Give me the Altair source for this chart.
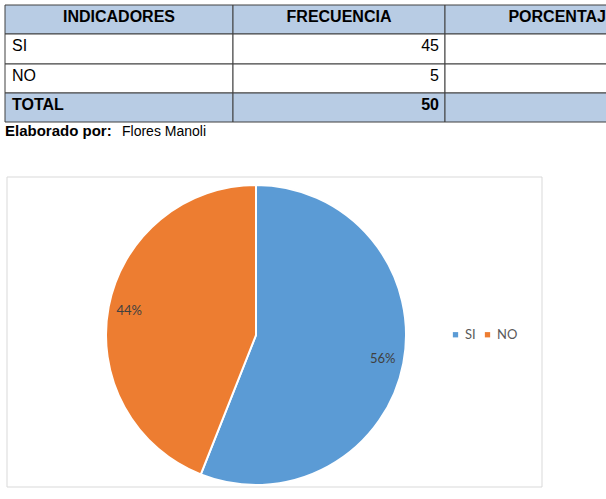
import altair as alt
import pandas as pd

# ---- data ----
headers = ["INDICADORES", "FRECUENCIA", "PORCENTAJE"]
indicadores = ["SI", "NO"]
frecuencias = [45, 5]
total_label = "TOTAL"
total_value = 50
pie_labels = ["SI", "NO"]
pie_pct = [56, 44]
credit_bold = "Elaborado por:"
credit_name = "Flores Manoli"

# ---- layout (pixels) ----
W, H = 606, 499
col_edges = [5, 233, 445, 680]
row_edges = [5, 34, 64, 93, 122]
head_fill = "#B8CCE4"
body_fill = "#FFFFFF"
border = "#404040"
FONT = "Liberation Sans"

xs = alt.Scale(domain=[0, W], nice=False, zero=False)
ys = alt.Scale(domain=[0, H], nice=False, zero=False, reverse=True)

# table cells
cells = []
for r in range(4):
    for c in range(3):
        cells.append({
            "x": col_edges[c], "x2": col_edges[c + 1],
            "y": row_edges[r], "y2": row_edges[r + 1],
            "fill": head_fill if r in (0, 3) else body_fill,
        })
cells_df = pd.DataFrame(cells)
cell_layer = alt.Chart(cells_df).mark_rect(stroke=border, strokeWidth=1).encode(
    x=alt.X("x:Q", scale=xs, axis=None),
    x2="x2:Q",
    y=alt.Y("y:Q", scale=ys, axis=None),
    y2="y2:Q",
    fill=alt.Fill("fill:N", scale=None),
)

def base_y(r):
    return row_edges[r] + 16.5

head_df = pd.DataFrame({
    "t": headers,
    "x": [(col_edges[i] + col_edges[i + 1]) / 2 for i in range(3)],
    "y": [base_y(0)] * 3,
})
head_layer = alt.Chart(head_df).mark_text(
    font=FONT, fontSize=16, fontWeight="bold", align="center", baseline="alphabetic", color="#000000"
).encode(x=alt.X("x:Q", scale=xs), y=alt.Y("y:Q", scale=ys), text="t:N")

left_df = pd.DataFrame({"t": indicadores, "x": [col_edges[0] + 7] * 2, "y": [base_y(1), base_y(2)]})
left_layer = alt.Chart(left_df).mark_text(
    font=FONT, fontSize=16, align="left", baseline="alphabetic", color="#000000"
).encode(x=alt.X("x:Q", scale=xs), y=alt.Y("y:Q", scale=ys), text="t:N")

right_df = pd.DataFrame({"t": [str(v) for v in frecuencias], "x": [col_edges[2] - 6] * 2, "y": [base_y(1), base_y(2)]})
right_layer = alt.Chart(right_df).mark_text(
    font=FONT, fontSize=16, align="right", baseline="alphabetic", color="#000000"
).encode(x=alt.X("x:Q", scale=xs), y=alt.Y("y:Q", scale=ys), text="t:N")

tot_l_df = pd.DataFrame({"t": [total_label], "x": [col_edges[0] + 7], "y": [base_y(3)]})
tot_l_layer = alt.Chart(tot_l_df).mark_text(
    font=FONT, fontSize=16, fontWeight="bold", align="left", baseline="alphabetic", color="#000000"
).encode(x=alt.X("x:Q", scale=xs), y=alt.Y("y:Q", scale=ys), text="t:N")

tot_r_df = pd.DataFrame({"t": [str(total_value)], "x": [col_edges[2] - 6], "y": [base_y(3)]})
tot_r_layer = alt.Chart(tot_r_df).mark_text(
    font=FONT, fontSize=16, fontWeight="bold", align="right", baseline="alphabetic", color="#000000"
).encode(x=alt.X("x:Q", scale=xs), y=alt.Y("y:Q", scale=ys), text="t:N")

cred_b_df = pd.DataFrame({"t": [credit_bold], "x": [5], "y": [136]})
cred_b_layer = alt.Chart(cred_b_df).mark_text(
    font=FONT, fontSize=15, fontWeight="bold", align="left", baseline="alphabetic", color="#000000",
).encode(x=alt.X("x:Q", scale=xs), y=alt.Y("y:Q", scale=ys), text="t:N")

cred_n_df = pd.DataFrame({"t": [credit_name], "x": [122], "y": [136]})
cred_n_layer = alt.Chart(cred_n_df).mark_text(
    font=FONT, fontSize=14, align="left", baseline="alphabetic", color="#000000"
).encode(x=alt.X("x:Q", scale=xs), y=alt.Y("y:Q", scale=ys), text="t:N")

# chart frame
frame_df = pd.DataFrame({"x": [7], "x2": [542], "y": [177], "y2": [487]})
frame_layer = alt.Chart(frame_df).mark_rect(fill="white", stroke="#D9D9D9", strokeWidth=1).encode(
    x=alt.X("x:Q", scale=xs), x2="x2:Q", y=alt.Y("y:Q", scale=ys), y2="y2:Q"
)

# pie
CX, CY, R = 256, 335, 150
pie_df = pd.DataFrame({
    "indicador": pie_labels,
    "porcentaje": pie_pct,
    "orden": list(range(len(pie_labels))),
    "label": [f"{v}%" for v in pie_pct],
})
arc_layer = alt.Chart(pie_df).mark_arc(radius=R, stroke="white", strokeWidth=2).encode(
    theta=alt.Theta("porcentaje:Q", stack=True),
    color=alt.Color(
        "indicador:N",
        scale=alt.Scale(domain=pie_labels, range=["#5B9BD5", "#ED7D31"]),
        legend=alt.Legend(
            orient="none", legendX=449, legendY=328, direction="horizontal", title=None,
            symbolType="square", symbolSize=28, symbolStrokeWidth=0,
            labelFont="Lato", labelFontSize=13, labelColor="#595959",
            columnPadding=5, labelOffset=3,
        ),
    ),
    order=alt.Order("orden:Q"),
    x=alt.value(CX),
    y=alt.value(CY),
)
lab_layer = alt.Chart(pie_df).mark_text(radius=129, font="Lato", fontSize=13, color="#404040").encode(
    theta=alt.Theta("porcentaje:Q", stack=True),
    order=alt.Order("orden:Q"),
    text="label:N",
    x=alt.value(CX),
    y=alt.value(CY),
)

chart = alt.layer(
    cell_layer, head_layer, left_layer, right_layer, tot_l_layer, tot_r_layer,
    cred_b_layer, cred_n_layer, frame_layer, arc_layer, lab_layer,
).properties(
    width=W, height=H, autosize=alt.AutoSizeParams(type="none"), padding=0, background="white"
).configure_view(stroke=None)

chart.save("out.html", embed_options={"renderer": "svg", "actions": False})
